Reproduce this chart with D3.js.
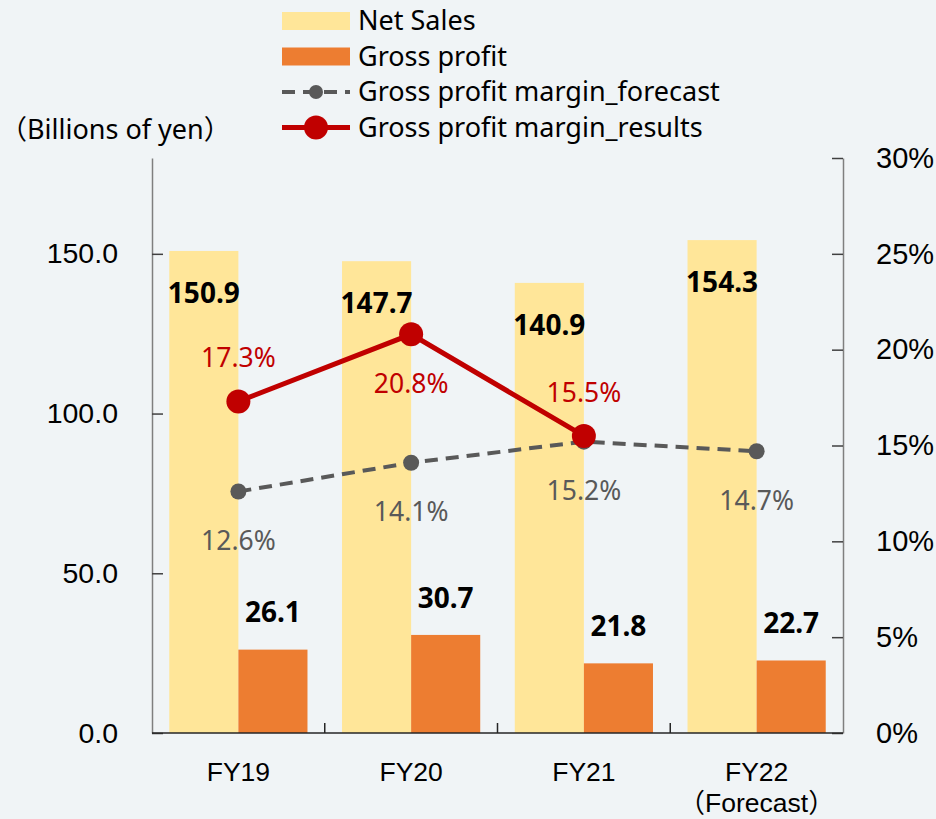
<!DOCTYPE html>
<html>
<head>
<meta charset="utf-8">
<script src="https://cdn.jsdelivr.net/npm/d3@7"></script>
<style>
  body { margin: 0; background: #f0f4f6; }
  svg { display: block; font-family: "Noto Sans", "Noto Sans CJK JP", sans-serif; }
  .cjk { font-family: "Noto Sans CJK JP"; }
</style>
</head>
<body>
<svg id="chart" width="936" height="819"></svg>
<script>
// data
var categories = ['FY19', 'FY20', 'FY21', 'FY22'];
var netSales = [150.9, 147.7, 140.9, 154.3];
var grossProfit = [26.1, 30.7, 21.8, 22.7];
var marginForecast = [12.6, 14.1, 15.2, 14.7];
var marginResults = [17.3, 20.8, 15.5, null];
var leftTicks = [0, 50, 100, 150];
var rightTicks = [0, 5, 10, 15, 20, 25, 30];

var svg = d3.select('#chart');
var m = { left: 152, right: 843, top: 158, bottom: 733 };

var x = d3.scaleBand().domain(categories).range([m.left, m.right]).paddingInner(0.2).paddingOuter(0.1);
var yL = d3.scaleLinear().domain([0, 180]).range([m.bottom, m.top]);
var yR = d3.scaleLinear().domain([0, 30]).range([m.bottom, m.top]);
var half = x.bandwidth() / 2;
var cx = function(i) { return x(categories[i]) + half; };

// text with full-width brackets drawn in the CJK face
function bracketed(sel, word) {
    sel.append('tspan').attr('class', 'cjk').text('（');
    sel.append('tspan').text(word);
    sel.append('tspan').attr('class', 'cjk').text('）');
}

// bars
svg.append('g').selectAll('rect').data(netSales).join('rect')
    .attr('x', function(d, i) { return x(categories[i]); })
    .attr('y', function(d) { return yL(d); })
    .attr('width', half)
    .attr('height', function(d) { return yL(0) - yL(d); })
    .attr('fill', '#ffe699');
svg.append('g').selectAll('rect').data(grossProfit).join('rect')
    .attr('x', function(d, i) { return cx(i); })
    .attr('y', function(d) { return yL(d); })
    .attr('width', half)
    .attr('height', function(d) { return yL(0) - yL(d); })
    .attr('fill', '#ed7d31');

// axes
var gl = svg.append('g').attr('transform', 'translate(' + m.left + ',0)')
    .call(d3.axisLeft(yL).tickValues(leftTicks).tickFormat(d3.format('.1f')).tickSize(-11).tickSizeOuter(0).tickPadding(34));
gl.select('.domain').attr('stroke', '#7f7f7f').attr('stroke-width', 1.5);
gl.selectAll('.tick line').attr('stroke', '#404040').attr('stroke-width', 1.5);
gl.selectAll('text').attr('font-size', 28.5).attr('fill', '#000');

var gr = svg.append('g').attr('transform', 'translate(' + m.right + ',0)')
    .call(d3.axisRight(yR).tickValues(rightTicks).tickFormat(function(d) { return d + '%'; }).tickSize(-11).tickSizeOuter(0).tickPadding(33));
gr.select('.domain').attr('stroke', '#7f7f7f').attr('stroke-width', 1.5);
gr.selectAll('.tick line').attr('stroke', '#404040').attr('stroke-width', 1.5);
gr.selectAll('text').attr('font-size', 29).attr('fill', '#000');

// category axis
svg.append('line').attr('x1', m.left).attr('x2', m.right).attr('y1', m.bottom).attr('y2', m.bottom)
    .attr('stroke', '#262626').attr('stroke-width', 1.5);
svg.append('g').selectAll('line').data(categories.slice(1)).join('line')
    .attr('x1', function(d) { return x(d) - x.step() * 0.1; })
    .attr('x2', function(d) { return x(d) - x.step() * 0.1; })
    .attr('y1', m.bottom).attr('y2', m.bottom - 10)
    .attr('stroke', '#262626').attr('stroke-width', 1.5);
var gx = svg.append('g').attr('transform', 'translate(0,' + m.bottom + ')')
    .call(d3.axisBottom(x).tickSize(0).tickPadding(29));
gx.select('.domain').remove();
gx.selectAll('text').attr('font-size', 26.5).attr('fill', '#000');
gx.selectAll('.tick').filter(function(d) { return d === 'FY22'; })
    .append('text').attr('y', 29).attr('dy', '1.9em').attr('font-size', 26.5).attr('fill', '#000')
    .attr('text-anchor', 'middle').call(bracketed, 'Forecast');

// bar labels
svg.append('g').selectAll('text').data(netSales).join('text')
    .attr('x', function(d, i) { return x(categories[i]) + half / 2; })
    .attr('y', function(d) { return yL(d) + 42; })
    .attr('dy', '0.35em').attr('text-anchor', 'middle')
    .attr('font-size', 28).attr('font-weight', 'bold').attr('fill', '#000')
    .text(function(d) { return d.toFixed(1); });
svg.append('g').selectAll('text').data(grossProfit).join('text')
    .attr('x', function(d, i) { return cx(i) + half / 2; })
    .attr('y', function(d) { return yL(d) - 37; })
    .attr('dy', '0.35em').attr('text-anchor', 'middle')
    .attr('font-size', 28).attr('font-weight', 'bold').attr('fill', '#000')
    .text(function(d) { return d.toFixed(1); });

// lines
var line = d3.line().defined(function(d) { return d != null; })
    .x(function(d, i) { return cx(i); }).y(function(d) { return yR(d); });

svg.append('path').datum(marginForecast).attr('d', line)
    .attr('fill', 'none').attr('stroke', '#595959').attr('stroke-width', 4).attr('stroke-dasharray', '13,8');
svg.append('g').selectAll('circle').data(marginForecast).join('circle')
    .attr('cx', function(d, i) { return cx(i); }).attr('cy', function(d) { return yR(d); })
    .attr('r', 8).attr('fill', '#595959');

svg.append('path').datum(marginResults).attr('d', line)
    .attr('fill', 'none').attr('stroke', '#c00000').attr('stroke-width', 5);
svg.append('g').selectAll('circle').data(marginResults.filter(function(d) { return d != null; })).join('circle')
    .attr('cx', function(d, i) { return cx(i); }).attr('cy', function(d) { return yR(d); })
    .attr('r', 12).attr('fill', '#c00000');

// line labels
svg.append('g').selectAll('text').data(marginForecast).join('text')
    .attr('x', function(d, i) { return cx(i); })
    .attr('y', function(d) { return yR(d) + 49; })
    .attr('dy', '0.35em').attr('text-anchor', 'middle')
    .attr('font-size', 26.5).attr('fill', '#595959')
    .text(function(d) { return d.toFixed(1) + '%'; });
var resultOffset = [-44, 49, -43];
svg.append('g').selectAll('text').data(marginResults.filter(function(d) { return d != null; })).join('text')
    .attr('x', function(d, i) { return cx(i); })
    .attr('y', function(d, i) { return yR(d) + resultOffset[i]; })
    .attr('dy', '0.35em').attr('text-anchor', 'middle')
    .attr('font-size', 26.5).attr('fill', '#c00000')
    .text(function(d) { return d.toFixed(1) + '%'; });

// unit title
svg.append('text').attr('x', 0).attr('y', 130).attr('dy', '0.35em')
    .attr('font-size', 27).attr('fill', '#000').call(bracketed, 'Billions of yen');

// legend
var legend = [
    { name: 'Net Sales', type: 'rect', color: '#ffe699' },
    { name: 'Gross profit', type: 'rect', color: '#ed7d31' },
    { name: 'Gross profit margin_forecast', type: 'dash', color: '#595959' },
    { name: 'Gross profit margin_results', type: 'line', color: '#c00000' }
];
var lg = svg.append('g').selectAll('g').data(legend).join('g')
    .attr('transform', function(d, i) { return 'translate(282,' + (21 + i * 35.5) + ')'; });
lg.filter(function(d) { return d.type === 'rect'; }).append('rect')
    .attr('x', 0).attr('y', -9).attr('width', 68).attr('height', 18).attr('fill', function(d) { return d.color; });
lg.filter(function(d) { return d.type === 'dash'; }).append('line')
    .attr('x1', 0).attr('x2', 68).attr('stroke', function(d) { return d.color; })
    .attr('stroke-width', 4).attr('stroke-dasharray', '13,8');
lg.filter(function(d) { return d.type === 'dash'; }).append('circle')
    .attr('cx', 34).attr('r', 7).attr('fill', function(d) { return d.color; });
lg.filter(function(d) { return d.type === 'line'; }).append('line')
    .attr('x1', 0).attr('x2', 68).attr('stroke', function(d) { return d.color; }).attr('stroke-width', 5);
lg.filter(function(d) { return d.type === 'line'; }).append('circle')
    .attr('cx', 34).attr('r', 12).attr('fill', function(d) { return d.color; });
lg.append('text').attr('x', 76).attr('dy', '0.35em').attr('font-size', 27).attr('fill', '#000')
    .text(function(d) { return d.name; });
</script>
</body>
</html>
